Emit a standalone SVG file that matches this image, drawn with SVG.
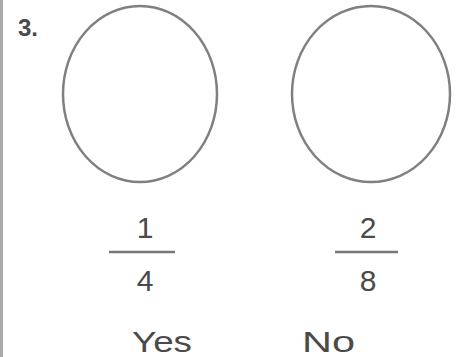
<svg xmlns="http://www.w3.org/2000/svg" width="459" height="357" viewBox="0 0 459 357">
<style>
.t{font-family:"Liberation Sans",Arial,sans-serif;fill:#4a4a4a;}
.c{fill:none;stroke:#808080;stroke-width:2.5;}
.bar{stroke:#777;stroke-width:2.5;}
</style>
<rect width="459" height="357" fill="#fff"/>
<line x1="1.5" y1="0" x2="1.5" y2="357" stroke="#aaa" stroke-width="3"/>
<text class="t" x="18" y="36" font-size="24" font-weight="bold">3.</text>
<g id="circle1"><ellipse class="c" cx="140" cy="94" rx="77" ry="88"/></g>
<g id="circle2"><ellipse class="c" cx="371" cy="94" rx="79" ry="88"/></g>
<g id="frac1">
<text class="t" x="145" y="238" font-size="30" text-anchor="middle">1</text>
<line class="bar" x1="109" y1="252" x2="175" y2="252"/>
<text class="t" x="145" y="291" font-size="30" text-anchor="middle">4</text>
</g>
<g id="frac2">
<text class="t" x="368" y="238" font-size="30" text-anchor="middle">2</text>
<line class="bar" x1="335" y1="252" x2="398" y2="252"/>
<text class="t" x="368" y="291" font-size="30" text-anchor="middle">8</text>
</g>
<text class="t" x="132" y="352" font-size="30" textLength="60" lengthAdjust="spacingAndGlyphs">Yes</text>
<text class="t" x="302" y="352" font-size="30" textLength="53" lengthAdjust="spacingAndGlyphs">No</text>
</svg>
